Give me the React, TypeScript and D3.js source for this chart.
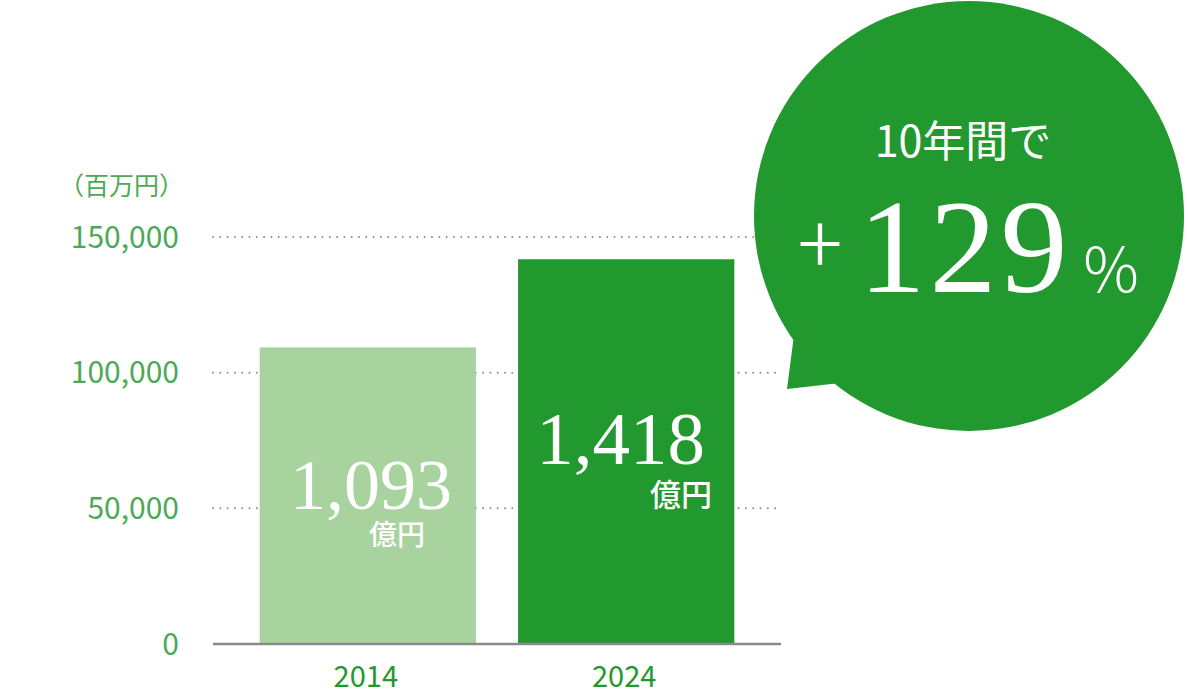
import React from "react";
import * as d3 from "d3";

const years = ["2014", "2024"];
const values = [109300, 141800]; // 百万円
const valueLabels = ["1,093", "1,418"];
const unitLabel = "億円";
const yTicks = [0, 50000, 100000, 150000];
const axisTitle = "（百万円）";
const bubbleLine1 = "10年間で";
const bubbleNumber = "129";

const W = 1188;
const H = 696;
const FONT = "'Noto Sans CJK JP', 'Noto Sans', sans-serif";
const SERIF = "'Liberation Serif', 'DejaVu Serif', serif";

export default function App() {
  const y = d3.scaleLinear().domain([0, 150000]).range([644, 237]);
  const x = d3.scaleBand().domain(years).range([239, 755]).paddingInner(0.163).paddingOuter(0.08);
  const colors = ["#a8d39f", "#22992e"];
  const tickColor = "#4caa55";

  const cx = 969, cy = 216, r = 215;
  const tail = [[794, 335], [787, 389], [840, 383]];

  const labelCfg = [
    { right: 452, base: 509, size: 72, unitRight: 425, unitBase: 545, unitSize: 28 },
    { right: 705, base: 464, size: 75, unitRight: 712, unitBase: 506, unitSize: 31 },
  ];

  return (
    <svg width={W} height={H} style={{ position: "absolute", left: 0, top: 0 }}>
      {/* grid */}
      {yTicks.filter((t) => t > 0).map((t) => (
        <line key={t} x1={213} x2={781} y1={y(t)} y2={y(t)} stroke="#8c8c8c" strokeWidth={2}
          strokeDasharray="0 7.3" strokeLinecap="round" />
      ))}
      {/* tick labels */}
      {yTicks.map((t) => (
        <text key={t} x={179} y={y(t)} dy="0.36em" textAnchor="end" fill={tickColor}
          fontFamily={FONT} fontSize={30}>{d3.format(",")(t)}</text>
      ))}
      <text x={184} y={186} dy="0.36em" textAnchor="end" fill={tickColor} fontFamily={FONT} fontSize={25}>{axisTitle}</text>

      {/* bars */}
      {years.map((yr, i) => (
        <rect key={yr} x={x(yr)} y={y(values[i])} width={x.bandwidth()} height={y(0) - y(values[i])} fill={colors[i]} />
      ))}
      {/* axis */}
      <line x1={213} x2={781} y1={y(0)} y2={y(0)} stroke="#8a8a8a" strokeWidth={2.5} />
      {years.map((yr) => (
        <text key={yr} x={(x(yr) as number) + x.bandwidth() / 2 - 2} y={677} dy="0.36em" textAnchor="middle"
          fill="#22992e" fontFamily={FONT} fontSize={29}>{yr}</text>
      ))}

      {/* value labels */}
      {years.map((yr, i) => {
        const c = labelCfg[i];
        return (
          <g key={yr}>
            <text x={c.right} y={c.base} textAnchor="end" fill="#fff" fontFamily={SERIF} fontSize={c.size}>{valueLabels[i]}</text>
            <text x={c.unitRight} y={c.unitBase} textAnchor="end" fill="#fff" fontFamily={FONT} fontWeight={500} fontSize={c.unitSize}>{unitLabel}</text>
          </g>
        );
      })}

      {/* bubble */}
      <circle cx={cx} cy={cy} r={r} fill="#22992e" />
      <polygon points={tail.map((p) => p.join(",")).join(" ")} fill="#22992e" />
      <text x={963} y={142} dy="0.36em" textAnchor="middle" fill="#fff" fontFamily={FONT} fontSize={43}>{bubbleLine1}</text>
      <text x={820} y={245} dy="0.36em" textAnchor="middle" fill="#fff" fontFamily={FONT} fontWeight={200} fontSize={84}>+</text>
      <text x={965} y={292} textAnchor="middle" fill="#fff" fontFamily={SERIF} fontSize={134} letterSpacing={4}>{bubbleNumber}</text>
      <text x={1111} y={292} textAnchor="middle" fill="#fff" fontFamily={FONT} fontWeight={300} fontSize={62}>%</text>
    </svg>
  );
}
